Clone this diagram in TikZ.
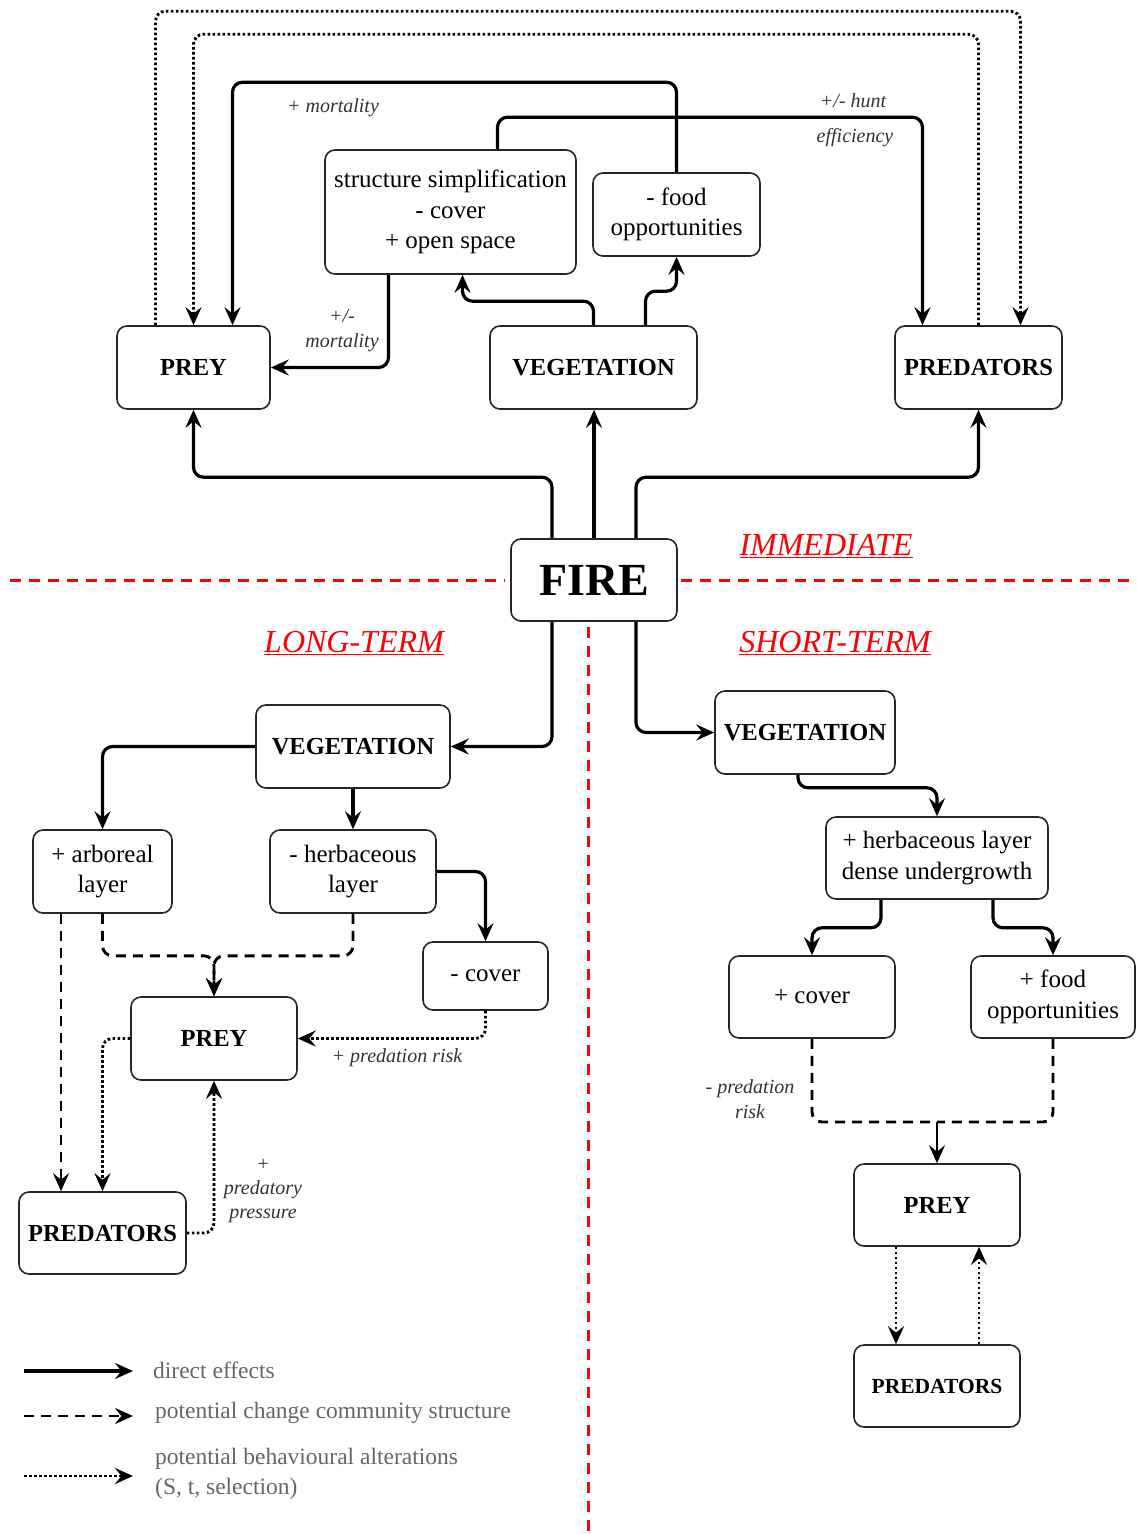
\documentclass[tikz,border=0pt]{standalone}
\usepackage{fontspec}
\setmainfont{Liberation Serif}
\usetikzlibrary{arrows.meta}
\begin{document}
\begin{tikzpicture}[x=1pt,y=-1pt,
  box/.style={draw=black!85, line width=1.6pt, rounded corners=10pt, align=center, inner sep=0pt, font=\fontsize{25}{30.5}\selectfont},
  bbox/.style={box, font=\fontsize{24.5}{30}\selectfont\bfseries},
  arr/.style={line width=3.2pt, rounded corners=10pt, -{Stealth[length=18pt,width=16pt,inset=6.5pt]}},
  dashline/.style={arr, line width=2.9pt, dash pattern=on 10pt off 7pt},
  dotline/.style={arr, line width=2.9pt, dash pattern=on 2.6pt off 2.4pt},
  lab/.style={font=\fontsize{20}{25}\selectfont\itshape, text=black!80, align=center, inner sep=0pt},
  redlab/.style={font=\fontsize{32}{36}\selectfont\itshape, text=red, inner sep=0pt},
  legtext/.style={font=\fontsize{23.5}{30}\selectfont, text=black!60, anchor=west, align=left, inner sep=0pt},
  reddash/.style={draw=red, line width=3pt, dash pattern=on 11pt off 8pt}
]
\useasboundingbox (0,0) rectangle (1136,1534);

% ---------- nodes: immediate ----------
\node[bbox, minimum width=153pt, minimum height=83pt] (prey1) at (193.5,367.5) {PREY};
\node[bbox, minimum width=207pt, minimum height=83pt] (veg1) at (593.5,367.5) {VEGETATION};
\node[bbox, minimum width=167pt, minimum height=83pt] (pred1) at (978.5,367.5) {PREDATORS};
\node[box, minimum width=251pt, minimum height=124pt] (struct) at (450.5,212) {structure simplification\\- cover\\+ open space};
\node[box, minimum width=167pt, minimum height=83pt] (food) at (676.5,214.5) {- food\\opportunities};
\node[box, minimum width=166pt, minimum height=82pt, font=\fontsize{46}{50}\selectfont\bfseries] (fire) at (594,580) {FIRE};

% ---------- nodes: long-term ----------
\node[bbox, minimum width=194pt, minimum height=83pt] (veg2) at (353,746.5) {VEGETATION};
\node[box, minimum width=139pt, minimum height=83pt] (arb) at (102.5,871.5) {+ arboreal\\layer};
\node[box, minimum width=166pt, minimum height=83pt] (herb2) at (353,871.5) {- herbaceous\\layer};
\node[box, minimum width=125pt, minimum height=68pt] (cover2) at (485.5,976) {- cover};
\node[bbox, minimum width=166pt, minimum height=83pt] (prey2) at (214,1038.5) {PREY};
\node[bbox, minimum width=167pt, minimum height=82pt] (pred2) at (102.5,1233) {PREDATORS};

% ---------- nodes: short-term ----------
\node[bbox, minimum width=180pt, minimum height=83pt] (veg3) at (805,732.5) {VEGETATION};
\node[box, minimum width=222pt, minimum height=82pt] (herb3) at (937,858) {+ herbaceous layer\\dense undergrowth};
\node[box, minimum width=166pt, minimum height=82pt] (cov3) at (812,997) {+ cover};
\node[box, minimum width=164pt, minimum height=82pt] (food3) at (1053,997) {+ food\\opportunities};
\node[bbox, minimum width=166pt, minimum height=82pt] (prey3) at (937,1205) {PREY};
\node[bbox, minimum width=166pt, minimum height=82pt, font=\fontsize{21.5}{26}\selectfont\bfseries] (pred3) at (937,1386) {PREDATORS};

% ---------- red separators and labels ----------
\draw[reddash] (10,580) -- (505,580);
\draw[reddash] (681,580) -- (1136,580);
\draw[reddash] (588,627) -- (588,1534);
\node[redlab] (limm) at (826,546) {\underline{IMMEDIATE}};
\node[redlab] (llong) at (354,643) {\underline{LONG-TERM}};
\node[redlab] (lshort) at (835,643) {\underline{SHORT-TERM}};

% ---------- immediate connectors ----------
\draw[arr] ([xshift=-42pt]fire.north) -- ++(0,-61) -| (prey1.south);
\draw[arr] (fire.north) -- (fire.north |- veg1.south);
\draw[arr] ([xshift=42pt]fire.north) -- ++(0,-61) -| (pred1.south);
\draw[arr] (veg1.north) -- ++(0,-24) -| ([xshift=12pt]struct.south);
\draw[arr] ([xshift=52pt]veg1.north) -- ++(0,-34) -| (food.south);
\draw[arr] ([xshift=-62pt]struct.south) |- (prey1.east);
\draw[arr] (food.north) -- ++(0,-90) -| ([xshift=39pt]prey1.north);
\draw[arr] ([xshift=47pt]struct.north) -- ++(0,-32) -| ([xshift=-56pt]pred1.north);
\draw[dotline] ([xshift=-38pt]prey1.north) -- ++(0,-314) -| ([xshift=42pt]pred1.north);
\draw[dotline] (pred1.north) -- ++(0,-291) -| (prey1.north);

\node[lab] (lmort) at (333,108) {+ mortality};
\node[lab] (lhunt) at (853,101) {+/- hunt};
\node[lab] (leff) at (855,138) {efficiency};
\node[lab] (lmort2) at (342,331) {+/-\\mortality};

% ---------- long-term connectors ----------
\draw[arr] ([xshift=-42pt]fire.south) |- (veg2.east);
\draw[arr] (veg2.west) -| (arb.north);
\draw[arr] (veg2.south) -- (herb2.north);
\draw[arr] (herb2.east) -| (cover2.north);
\draw[dashline] (arb.south) -- ++(0,42) -| (prey2.north);
\draw[dashline] (herb2.south) -- ++(0,42) -| (prey2.north);
\draw[dashline] ([xshift=-41.5pt]arb.south) -- ([xshift=-41.5pt]pred2.north);
\draw[dotline] (prey2.west) -| (pred2.north);
\draw[dotline] (cover2.south) |- (prey2.east);
\draw[dotline] (pred2.east) -| (prey2.south);
\node[lab] (lpred) at (397,1058) {+ predation risk};
\node[lab, font=\fontsize{20}{24}\selectfont\itshape] (lpress) at (263,1191) {+\\predatory\\pressure};

% ---------- short-term connectors ----------
\draw[arr] ([xshift=42pt]fire.south) |- (veg3.west);
\draw[arr] ([xshift=-7pt]veg3.south) -- ++(0,13) -| (herb3.north);
\draw[arr] ([xshift=-56pt]herb3.south) -- ++(0,28) -| (cov3.north);
\draw[arr] ([xshift=56pt]herb3.south) -- ++(0,28) -| (food3.north);
\coordinate (jst) at (937,1122);
\draw[dashline, -] (cov3.south) |- (jst);
\draw[dashline, -] (food3.south) |- (jst);
\draw[arr, line width=2.6pt] (jst) -- (prey3.north);
\draw[dotline] ([xshift=-41pt]prey3.south) -- ([xshift=-41pt]pred3.north);
\draw[dotline] ([xshift=42pt]pred3.north) -- ([xshift=42pt]prey3.south);
\node[lab] (lrisk) at (750,1099) {- predation\\risk};

% ---------- legend ----------
\coordinate (la1) at (24,1371); \coordinate (lb1) at (133,1371);
\coordinate (la2) at (24,1416); \coordinate (lb2) at (133,1416);
\coordinate (la3) at (24,1476); \coordinate (lb3) at (133,1476);
\draw[arr] (la1) -- (lb1);
\draw[dashline] (la2) -- (lb2);
\draw[dotline] (la3) -- (lb3);
\node[legtext] (t1) at (153,1370) {direct effects};
\node[legtext] (t2) at (155,1413) {potential change community structure};
\node[legtext] (t3) at (155,1474) {potential behavioural alterations\\(S, t, selection)};
\end{tikzpicture}
\end{document}
